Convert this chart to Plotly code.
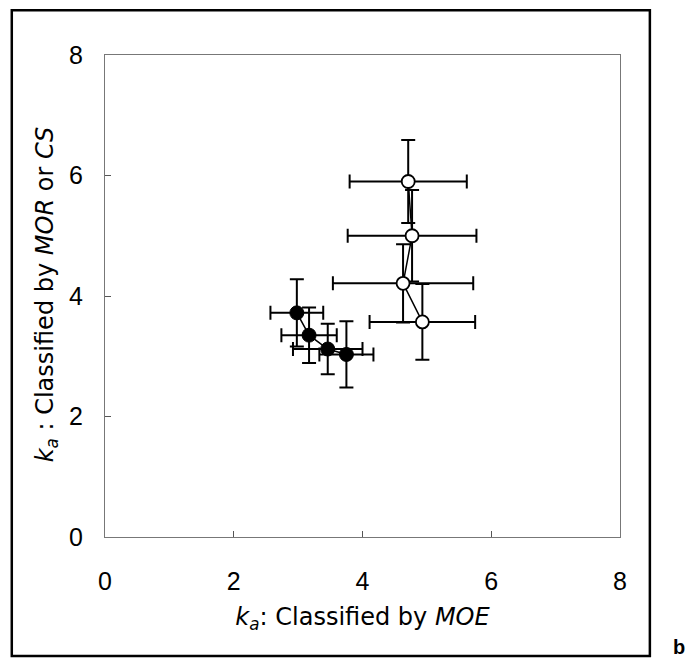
import plotly.graph_objects as go

# Filled circles (solid)
fx = [2.98, 3.17, 3.46, 3.75]
fy = [3.72, 3.35, 3.12, 3.03]
fxerr = [0.41, 0.43, 0.54, 0.42]
fyerr = [0.56, 0.46, 0.42, 0.55]

# Open circles
ox = [4.71, 4.77, 4.63, 4.93]
oy = [5.90, 5.00, 4.21, 3.57]
oxerr = [0.91, 1.00, 1.09, 0.82]
oyerr = [0.69, 0.76, 0.65, 0.63]

tickvals = [0, 2, 4, 6, 8]
ticktext = ["0", "2", "4", "6", "8"]

FONT = "Liberation Sans, Arial, sans-serif"
TFONT = "DejaVu Sans, Liberation Sans, sans-serif"

fig = go.Figure()
fig.add_trace(go.Scatter(
    x=fx, y=fy, mode="lines+markers",
    line=dict(color="black", width=1.5),
    marker=dict(symbol="circle", size=14, color="black", line=dict(color="black", width=1)),
    error_x=dict(type="data", array=fxerr, color="black", thickness=2, width=7),
    error_y=dict(type="data", array=fyerr, color="black", thickness=2, width=7),
    showlegend=False,
))
fig.add_trace(go.Scatter(
    x=ox, y=oy, mode="lines+markers",
    line=dict(color="black", width=1.5),
    marker=dict(symbol="circle", size=13, color="white", line=dict(color="black", width=1.8)),
    error_x=dict(type="data", array=oxerr, color="black", thickness=2, width=7),
    error_y=dict(type="data", array=oyerr, color="black", thickness=2, width=7),
    showlegend=False,
))

axis_common = dict(
    range=[0, 8], tickvals=tickvals, ticktext=ticktext,
    showgrid=False, zeroline=False,
    showline=True, linecolor="#777", linewidth=1, mirror=True,
    ticks="inside", ticklen=6, tickcolor="#555",
    tickfont=dict(family=FONT, size=25, color="black"),
)

fig.update_layout(
    width=699, height=659,
    margin=dict(l=105, r=79, t=55, b=122),
    paper_bgcolor="white", plot_bgcolor="white",
    xaxis=dict(**axis_common, ticklabelstandoff=22,
               title=dict(text="<i>k</i><sub><i>a</i></sub>: Classified by <i>MOE</i>",
                          font=dict(family=TFONT, size=24, color="black"), standoff=14)),
    yaxis=dict(**axis_common, ticklabelstandoff=16),
    shapes=[dict(type="rect", xref="paper", yref="paper",
                 x0=-0.181, x1=1.058, y0=-0.247, y1=1.093,
                 line=dict(color="black", width=2.5), fillcolor="rgba(0,0,0,0)")],
    annotations=[
        dict(text="<i>k</i><sub><i>a</i></sub> : Classified by <i>MOR</i> or <i>CS</i>",
             xref="paper", yref="paper", x=-0.113, y=0.503, textangle=-90,
             showarrow=False, xanchor="center", yanchor="middle",
             font=dict(family=TFONT, size=24, color="black")),
        dict(text="<b>b</b>", xref="paper", yref="paper",
             x=1.13, y=-0.255, showarrow=False,
             font=dict(family=FONT, size=20, color="black")),
    ],
)

fig.write_html("out.html")
